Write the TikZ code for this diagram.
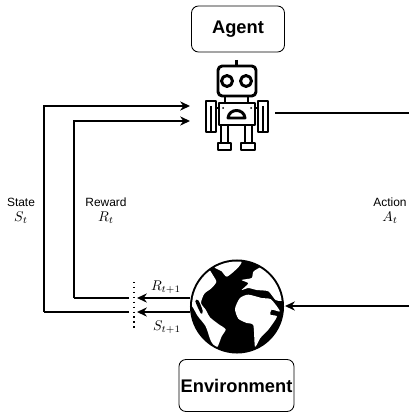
\documentclass[tikz,border=0pt]{standalone}
\usepackage{fontspec}
\setmainfont{Liberation Sans}
\usetikzlibrary{arrows.meta}

\tikzset{
    titlebox/.style={draw, rounded corners=5pt, line width=0.6pt, inner sep=0pt, font=\fontsize{13}{16}\selectfont\bfseries},
    flow/.style={line width=1.2pt, -{Stealth[length=7pt,width=6.5pt]}},
    plainflow/.style={line width=1.2pt},
    robotline/.style={line width=2.1pt, line join=round},
    caption/.style={font=\fontsize{8.5}{10}\selectfont, inner sep=0pt},
    mathlabel/.style={font=\fontsize{10}{12}\selectfont, inner sep=0pt}
}

\begin{document}
\begin{tikzpicture}[x=0.025cm, y=-0.025cm]
    \useasboundingbox (0,0) rectangle (409,412);

    % 1. Boxes
    \node[titlebox, minimum width=2.325cm, minimum height=1.15cm] (agent) at (238,29) {Agent};
    \node[titlebox, minimum width=2.875cm, minimum height=1.3cm] (environment) at (236.5,385.5) {Environment};

    % 2. Define Coordinates
    \coordinate (stateIn)    at (190,106);
    \coordinate (rewardIn)   at (190,121);
    \coordinate (stateTurn)  at (44,106);
    \coordinate (rewardTurn) at (74,121);
    \coordinate (stateLow)   at (44,312);
    \coordinate (rewardLow)  at (74,298);
    \coordinate (stateEnd)   at (129,312);
    \coordinate (rewardEnd)  at (129,298);
    \coordinate (stateTip)   at (137,312);
    \coordinate (rewardTip)  at (137,298);
    \coordinate (stateOut)   at (190,312);
    \coordinate (rewardOut)  at (190,298);
    \coordinate (actionOut)  at (275,113);
    \coordinate (actionTop)  at (409,113);
    \coordinate (actionLow)  at (409,306);
    \coordinate (actionIn)   at (285,306);
    \coordinate (cutTop)     at (134,282);
    \coordinate (cutLow)     at (134,328);

    % 3. Globe
    \node[circle, fill=black, inner sep=0pt, minimum size=2.35cm] (globe) at (237,306.5) {};
    \begin{scope}
        \clip (globe.center) circle (45);
        \begin{scope}[shift={(185,258)}, x=0.00833cm, y=-0.00833cm]
            \fill[white] plot[smooth cycle, tension=0.4] coordinates {(88,26) (112,12) (168,10) (160,28) (126,56) (110,40) (94,32)};
            \fill[white] plot[smooth cycle, tension=0.4] coordinates {(10,110) (40,50) (70,34) (84,52) (94,72) (78,92) (58,107) (48,135) (62,155) (75,178) (100,198) (122,214) (110,235) (96,268) (78,250) (62,205) (38,174) (22,146) (8,140)};
            \fill[white] plot[smooth cycle, tension=0.4] coordinates {(150,152) (165,120) (190,110) (230,120) (258,124) (285,160) (260,155) (256,170) (276,176) (250,215) (226,240) (210,266) (205,202) (185,195) (160,182)};
            \fill[white] plot[smooth cycle, tension=0.4] coordinates {(170,66) (200,60) (206,40) (240,25) (275,65) (295,125) (272,126) (250,100) (215,96) (190,90) (170,96) (190,76)};
            \fill[black] plot[smooth cycle, tension=0.5] coordinates {(31,130) (40,127) (53,158) (48,167)};
        \end{scope}
    \end{scope}

    % 4. Robot
    \begin{scope}[robotline]
        \node[minimum width=1.9cm, minimum height=2.25cm, inner sep=0pt] (robot) at (237,105) {};
        \draw[rounded corners=3pt] (218,66) rectangle (256,96);
        \draw (236.5,60) -- (236.5,66);
        \draw (227,81) circle (5.5);
        \draw (246,81) circle (5.5);
        \draw (225,96) -- (225,103);
        \draw (248,96) -- (248,103);
        \draw (219,103) rectangle (255,125);
        \draw (206,101) rectangle (216,132);
        \draw (258,101) rectangle (268,132);
        \draw (211,106) -- (211,132);
        \draw (263,106) -- (263,132);
        \draw (216,108) -- (219,108);
        \draw (255,108) -- (258,108);
        \draw (221,125) -- (221,143);
        \draw (228,125) -- (228,143);
        \draw (245,125) -- (245,143);
        \draw (252,125) -- (252,143);
        \draw (218,143) rectangle (231,150);
        \draw (241,143) rectangle (255,150);
        \draw (228,118) .. controls (229,108) and (244,108) .. (245,118) -- cycle;
        \fill (223,108) circle (1);
        \fill (251,108) circle (1);
    \end{scope}

    % 5. Connectors
    \draw[flow] (stateLow) -- (stateTurn) -- (stateIn);
    \draw[flow] (rewardLow) -- (rewardTurn) -- (rewardIn);
    \draw[plainflow] (stateEnd) -- (stateLow);
    \draw[plainflow] (rewardEnd) -- (rewardLow);
    \draw[flow] (stateOut) -- (stateTip);
    \draw[flow] (rewardOut) -- (rewardTip);
    \draw[plainflow] (actionOut) -- (actionTop);
    \draw[flow] (actionLow) -- (actionIn);
    \draw[line width=1pt, dash pattern=on 1pt off 2.5pt] (cutTop) -- (cutLow);

    % 6. Labels
    \node[caption] (stateText) at (21,202) {State};
    \node[mathlabel] (stateSym) at (21,218) {$S_t$};
    \node[caption] (rewardText) at (106,202) {Reward};
    \node[mathlabel] (rewardSym) at (106,218) {$R_t$};
    \node[caption] (actionText) at (390,202) {Action};
    \node[mathlabel] (actionSym) at (390,218) {$A_t$};
    \node[mathlabel] (rewardNext) at (166,287) {$R_{t+1}$};
    \node[mathlabel] (stateNext) at (167,327) {$S_{t+1}$};
\end{tikzpicture}
\end{document}
